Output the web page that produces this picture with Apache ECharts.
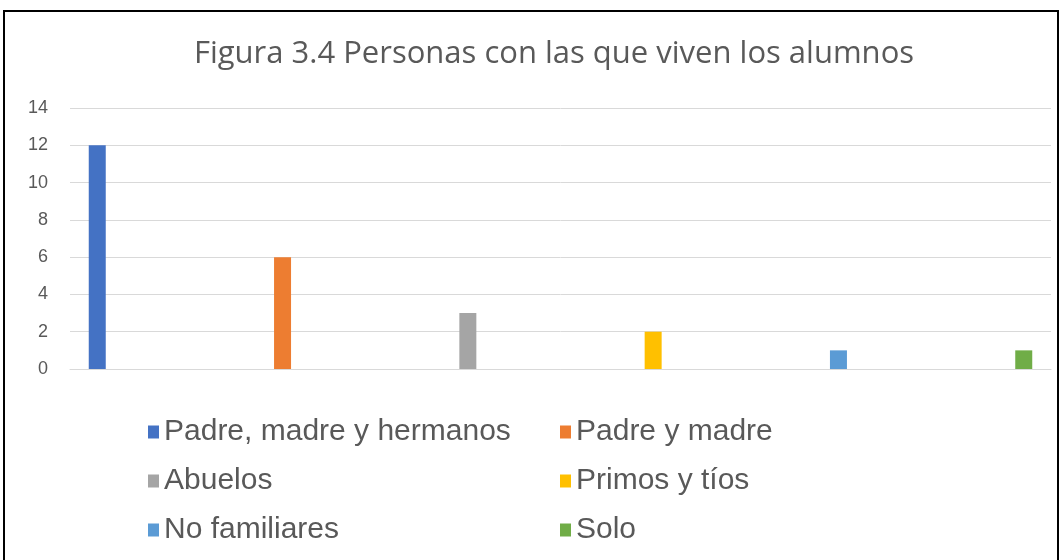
<!DOCTYPE html>
<html>
<head>
<meta charset="utf-8">
<script src="https://cdn.jsdelivr.net/npm/echarts@6/dist/echarts.min.js"></script>
<style>
  html, body { margin: 0; padding: 0; background: #fff; }
  #chart_personas { width: 1063px; height: 560px; }
</style>
</head>
<body>
<div id="chart_personas"></div>
<script>
// datos
const seriesNames = ['Padre, madre y hermanos', 'Padre y madre', 'Abuelos', 'Primos y tíos', 'No familiares', 'Solo']
const seriesValues = [12, 6, 3, 2, 1, 1]
const seriesColors = ['#4472C4', '#ED7D31', '#A5A5A5', '#FFC000', '#5B9BD5', '#70AD47']
const categories = ['']
const yTicks = { min: 0, max: 14, interval: 2 }

const myChart = echarts.init(document.getElementById('chart_personas'))

const series = seriesNames.map((name, i) => ({
  name: name,
  type: 'bar',
  data: [seriesValues[i]],
  barWidth: 17,
  barGap: '990%',
  itemStyle: { color: seriesColors[i] }
}))

const legendText = {
  fontFamily: 'Liberation Sans',
  fontSize: 30,
  color: '#595959',
  lineHeight: 32
}

const option = {
  animation: false,
  title: {
    text: 'Figura 3.4 Personas con las que viven los alumnos',
    left: 549,
    textAlign: 'center',
    top: 34,
    textStyle: {
      fontFamily: 'Open Sans',
      fontSize: 31,
      fontWeight: 'normal',
      color: '#595959'
    }
  },
  // dos columnas de leyenda
  legend: [
    {
      orient: 'vertical',
      left: 143,
      top: 411,
      itemWidth: 11,
      itemHeight: 13,
      itemGap: 17,
      icon: 'rect',
      textStyle: legendText,
      data: [seriesNames[0], seriesNames[2], seriesNames[4]]
    },
    {
      orient: 'vertical',
      left: 555,
      top: 411,
      itemWidth: 11,
      itemHeight: 13,
      itemGap: 17,
      icon: 'rect',
      textStyle: legendText,
      data: [seriesNames[1], seriesNames[3], seriesNames[5]]
    }
  ],
  grid: {
    left: 70,
    right: 12,
    top: 108,
    bottom: 191
  },
  xAxis: {
    type: 'category',
    data: categories,
    axisLine: { lineStyle: { color: '#D9D9D9' } },
    axisTick: { show: false },
    axisLabel: { show: false }
  },
  yAxis: {
    type: 'value',
    min: yTicks.min,
    max: yTicks.max,
    interval: yTicks.interval,
    axisLine: { show: false },
    axisTick: { show: false },
    splitLine: { lineStyle: { color: '#D9D9D9', width: 1 } },
    axisLabel: {
      margin: 22,
      fontFamily: 'Liberation Sans',
      fontSize: 18,
      color: '#595959'
    }
  },
  graphic: [
    {
      type: 'rect',
      shape: { x: 4, y: 11, width: 1054, height: 600 },
      style: { fill: 'none', stroke: '#000', lineWidth: 2 },
      silent: true
    }
  ],
  series: series
}

myChart.setOption(option)

window.addEventListener('resize', function() {
  myChart.resize()
})
</script>
</body>
</html>
